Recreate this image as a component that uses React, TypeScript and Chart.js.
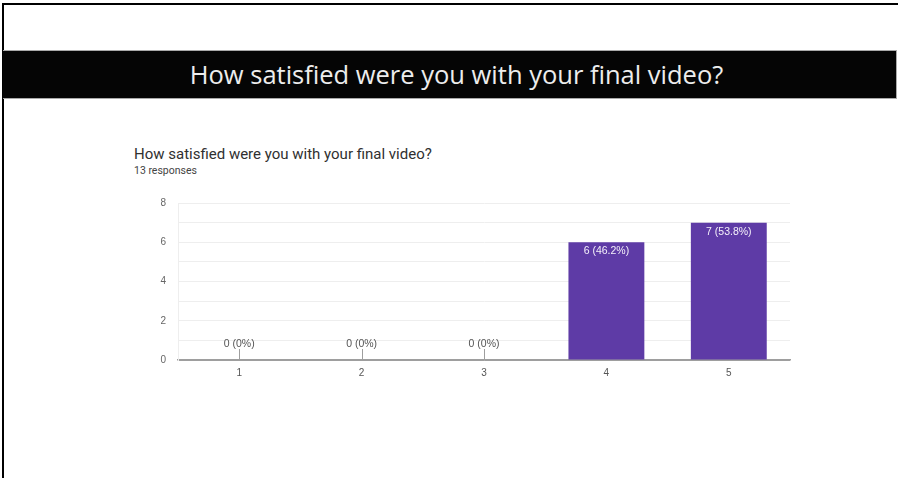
import React, { useEffect, useRef } from "react";
import { Chart, registerables } from "chart.js";

Chart.register(...registerables);

const slideTitle = "How satisfied were you with your final video?";
const chartTitle = "How satisfied were you with your final video?";
const responsesText = "13 responses";
const categories = ["1", "2", "3", "4", "5"];
const counts = [0, 0, 0, 6, 7];
const yTicks = [0, 2, 4, 6, 8];

const BAR_COLOR = "#5e3ba6";
const FONT = "'Liberation Sans', Arial, sans-serif";

const labelPlugin = {
  id: "barLabels",
  afterDatasetsDraw(chart: any) {
    const ctx = chart.ctx;
    const meta = chart.getDatasetMeta(0);
    const data = chart.data.datasets[0].data as number[];
    const total = data.reduce((a, b) => a + b, 0);
    ctx.save();
    ctx.font = `10.5px ${FONT}`;
    ctx.textAlign = "center";
    ctx.textBaseline = "middle";
    meta.data.forEach((bar: any, i: number) => {
      const v = data[i];
      const pct = total ? (v / total) * 100 : 0;
      const txt = `${v} (${v === 0 ? "0" : pct.toFixed(1)}%)`;
      if (v > 0) {
        ctx.fillStyle = "#f4f0fa";
        ctx.fillText(txt, bar.x, bar.y + 9);
      } else {
        ctx.strokeStyle = "#9e9e9e";
        ctx.lineWidth = 1;
        ctx.beginPath();
        ctx.moveTo(Math.round(bar.x) + 0.5, bar.y);
        ctx.lineTo(Math.round(bar.x) + 0.5, bar.y - 11);
        ctx.stroke();
        ctx.fillStyle = "#555555";
        ctx.fillText(txt, bar.x, bar.y - 16);
      }
    });
    ctx.restore();
  },
};

function BarChart() {
  const ref = useRef<HTMLCanvasElement | null>(null);
  useEffect(() => {
    if (!ref.current) return;
    const chart = new Chart(ref.current, {
      type: "bar",
      data: {
        labels: categories,
        datasets: [
          {
            data: counts,
            backgroundColor: BAR_COLOR,
            categoryPercentage: 1,
            barPercentage: 0.62,
          },
        ],
      },
      options: {
        animation: false,
        responsive: false,
        maintainAspectRatio: false,
        events: [],
        layout: { padding: { left: 138, top: 203, right: 108, bottom: 88 } },
        plugins: {
          legend: { display: false },
          tooltip: { enabled: false },
          title: { display: false },
        },
        scales: {
          x: {
            grid: { display: false, drawTicks: false },
            border: { display: true, color: "#9e9e9e", width: 1.5 },
            ticks: {
              color: "#555555",
              padding: 7,
              font: { family: FONT, size: 10 },
            },
            afterFit: (s: any) => {
              s.height = 30;
            },
          },
          y: {
            min: 0,
            max: 8,
            grid: {
              drawTicks: false,
              color: (c: any) => (c.tick && c.tick.value === 0 ? "#9e9e9e" : "#eeeeee"),
            },
            border: { display: true, color: "#eeeeee" },
            ticks: {
              stepSize: 1,
              color: "#666666",
              padding: 12,
              font: { family: FONT, size: 10 },
              callback: (v: any) => (yTicks.includes(Number(v)) ? String(v) : ""),
            },
            afterFit: (s: any) => {
              s.width = 40;
            },
          },
        },
      },
      plugins: [labelPlugin],
    });
    return () => chart.destroy();
  }, []);
  return (
    <canvas
      ref={ref}
      width={898}
      height={478}
      style={{ position: "absolute", left: 0, top: 0, width: 898, height: 478 }}
    />
  );
}

export default function App() {
  return (
    <div
      style={{
        position: "fixed",
        left: 0,
        top: 0,
        width: 898,
        height: 478,
        background: "#ffffff",
        overflow: "hidden",
      }}
    >
      <div
        style={{
          position: "absolute",
          left: 2,
          top: 3,
          width: 896,
          height: 475,
          borderLeft: "2px solid #000",
          borderTop: "2px solid #000",
        }}
      />
      <div
        style={{
          position: "absolute",
          left: 3,
          top: 50,
          width: 894,
          height: 49,
          background: "#050505",
          borderTop: "1px solid #aaa",
          borderBottom: "1px solid #aaa",
          borderRight: "1px solid #aaa",
          color: "#ededed",
          fontFamily: "'Open Sans', sans-serif",
          fontWeight: 400,
          fontSize: 25.5,
          lineHeight: "47px",
          textAlign: "center",
          boxSizing: "border-box",
          paddingLeft: 14,
          whiteSpace: "nowrap",
        }}
      >
        {slideTitle}
      </div>
      <div
        style={{
          position: "absolute",
          left: 134,
          top: 145,
          fontFamily: "Roboto, sans-serif",
          fontSize: 15,
          lineHeight: "18px",
          color: "#303030",
          whiteSpace: "nowrap",
        }}
      >
        {chartTitle}
      </div>
      <div
        style={{
          position: "absolute",
          left: 134,
          top: 164,
          fontFamily: "Roboto, sans-serif",
          fontSize: 10.5,
          lineHeight: "14px",
          color: "#444",
          whiteSpace: "nowrap",
        }}
      >
        {responsesText}
      </div>
      <BarChart />
    </div>
  );
}
